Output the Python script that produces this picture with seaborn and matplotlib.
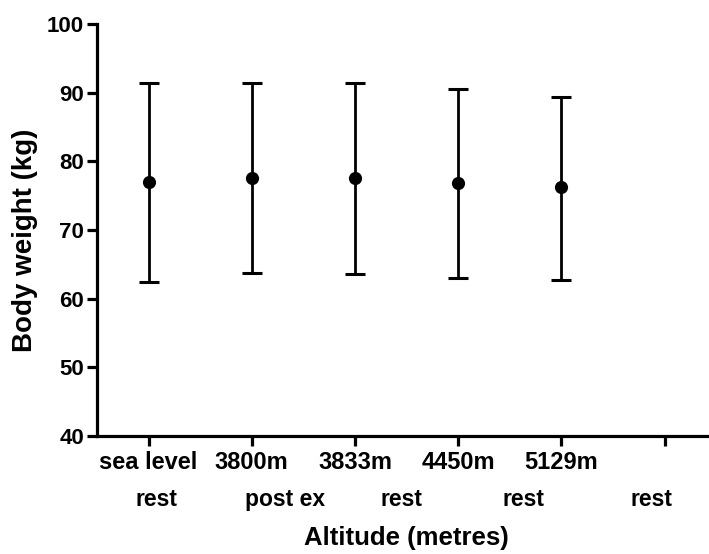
import numpy as np
import pandas as pd
import matplotlib
matplotlib.use("Agg")
import matplotlib.pyplot as plt
import seaborn as sns

# ---- data ----
sites = ["sea level", "3800m", "3833m", "4450m", "5129m", ""]
conditions = ["rest", "post ex", "rest", "rest", "rest"]
mean_weight = [77.0, 77.65, 77.6, 76.9, 76.2]
upper = [91.4, 91.4, 91.4, 90.6, 89.4]
lower = [62.4, 63.7, 63.6, 63.0, 62.7]
y_ticks = [40, 50, 60, 70, 80, 90, 100]

# layout only: x-centre of the second-row labels (in category units)
cond_x = [0.077, 1.318, 2.45, 3.63, 4.877]

sns.set_theme(style="ticks")
plt.rcParams["font.family"] = ["Liberation Sans", "DejaVu Sans"]
plt.rcParams["font.weight"] = "bold"

fig = plt.figure(figsize=(7.09, 5.54), dpi=100)
ax = fig.add_axes([96.5 / 709, 1 - 435.7 / 554, 1 - 96.5 / 709 + 0.01, (435.7 - 24.3) / 554])

df = pd.DataFrame({"x": np.arange(len(mean_weight)), "w": mean_weight,
                   "lo": lower, "hi": upper})

err = [df["w"] - df["lo"], df["hi"] - df["w"]]
ax.errorbar(df["x"], df["w"], yerr=err, fmt="none", ecolor="black",
            elinewidth=2.0, capsize=7, capthick=2.2, zorder=2)
sns.scatterplot(data=df, x="x", y="w", ax=ax, color="black", s=90,
                edgecolor="black", linewidth=0, zorder=3, legend=False)

ax.set_xlim(-0.505, 5.5)
ax.set_ylim(40, 100)
ax.set_yticks(y_ticks)
ax.set_yticklabels([str(v) for v in y_ticks], fontsize=16, fontweight="bold")
ax.set_xticks(np.arange(len(sites)))
ax.set_xticklabels(sites, fontsize=17, fontweight="bold")

for s in ["top", "right"]:
    ax.spines[s].set_visible(False)
for s in ["left", "bottom"]:
    ax.spines[s].set_linewidth(2.3)
    ax.spines[s].set_color("black")
ax.tick_params(axis="both", width=2.3, length=7, color="black", labelcolor="black")
ax.tick_params(axis="y", pad=2)
ax.tick_params(axis="x", pad=4)

trans = ax.get_xaxis_transform()
for xc, lab in zip(cond_x, conditions):
    ax.text(xc, -0.155, lab, transform=trans, ha="center", va="center",
            fontsize=16.5, fontweight="bold", color="black")

ax.set_xlabel("")
ax.set_ylabel("")
fig.text(25 / 709, 1 - 240 / 554, "Body weight (kg)", rotation=90, ha="center", va="center",
         fontsize=20, fontweight="bold", color="black")
fig.text(406 / 709, 1 - 538 / 554, "Altitude (metres)", ha="center", va="center",
         fontsize=18.5, fontweight="bold", color="black")

fig.savefig("out.png", dpi=100)
